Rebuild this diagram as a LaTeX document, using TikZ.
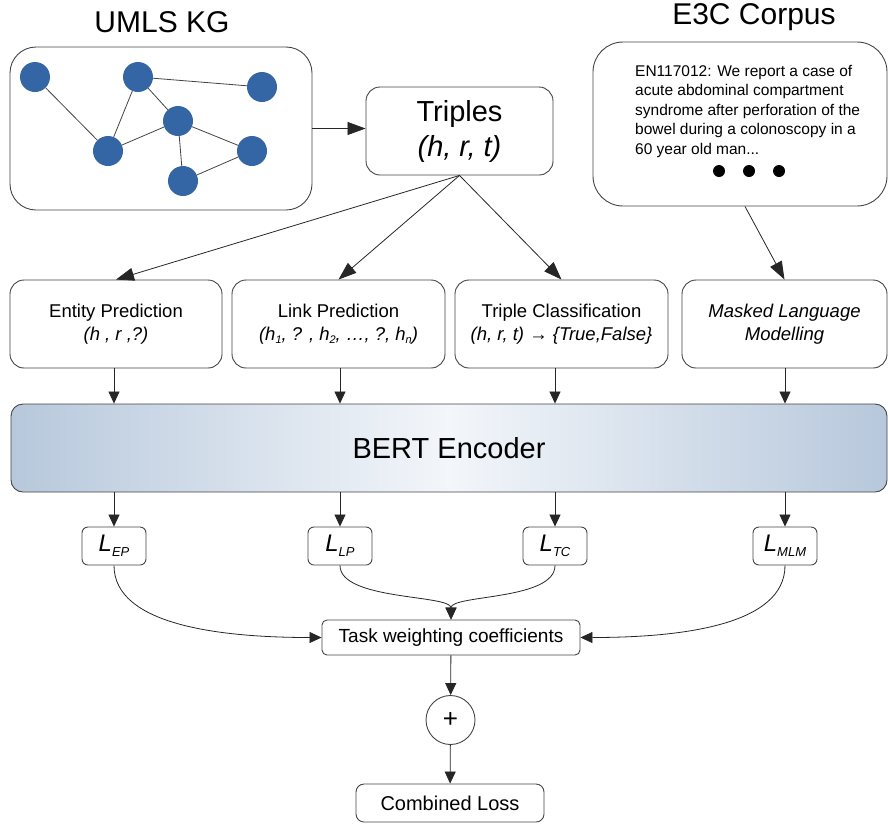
\documentclass[tikz,border=0pt]{standalone}
\usepackage{fontspec}
\setmainfont{Liberation Sans}
\usepackage{tikz}
\usetikzlibrary{arrows.meta,positioning,calc}
\definecolor{kgblue}{HTML}{3465A4}
\definecolor{bertedge}{HTML}{B7C8DC}
\definecolor{bertmid}{HTML}{F3F6FA}
\definecolor{linegray}{HTML}{444444}
\newcommand{\lowsub}[1]{\raisebox{-3.5pt}{\fontsize{11}{11}\selectfont #1}}
\newcommand{\losssub}[1]{\raisebox{-5pt}{\fontsize{13}{13}\selectfont #1}}
\tikzset{
  roundbox/.style={draw=linegray, line width=0.9pt, rounded corners=14pt, fill=white, align=center, inner sep=0pt},
  taskbox/.style={roundbox, minimum height=88pt, font=\fontsize{18.5}{23}\selectfont},
  lossbox/.style={draw=linegray, line width=0.9pt, rounded corners=6pt, fill=white, minimum width=64pt, minimum height=38pt, inner sep=0pt, font=\fontsize{24}{24}\selectfont\itshape},
  kgnode/.style={circle, fill=kgblue, minimum size=30pt, inner sep=0pt},
  dotnode/.style={circle, fill=black, minimum size=12pt, inner sep=0pt},
  arr/.style={-{Triangle[length=12pt,width=11pt]}, line width=0.8pt, draw=black!85},
  bigarr/.style={-{Triangle[length=18pt,width=13pt]}, line width=0.8pt, draw=black!85},
  flow/.style={line width=0.8pt, draw=linegray}
}
\begin{document}
\begin{tikzpicture}[x=1pt,y=-1pt]
\useasboundingbox (0,0) rectangle (888,823);
\node[font=\fontsize{30}{30}\selectfont] (kgtitle) at (162,22) {UMLS KG};
\node[font=\fontsize{30}{30}\selectfont] (corpustitle) at (754,17) {E3C Corpus};
% knowledge graph
\node[roundbox, rounded corners=26pt, minimum width=302pt, minimum height=163pt] (kg) at (161,128.5) {};
\node[kgnode] (n1) at (35,77) {};
\node[kgnode] (n2) at (138,77) {};
\node[kgnode] (n3) at (262,87) {};
\node[kgnode] (n4) at (178,121) {};
\node[kgnode] (n5) at (108,151) {};
\node[kgnode] (n6) at (252,151) {};
\node[kgnode] (n7) at (183,181) {};
\draw[flow] (n1) -- (n5) (n2) -- (n3) (n2) -- (n4) (n2) -- (n5)
  (n5) -- (n4) (n4) -- (n6) (n4) -- (n7) (n7) -- (n6);
\node[roundbox, minimum width=187pt, minimum height=88pt, font=\fontsize{29}{35}\selectfont] (triples) at (459.5,131) {Triples\\\textit{(h, r, t)}};
\draw[bigarr] (kg.east) -- (kg.east -| triples.west);
% corpus
\node[roundbox, rounded corners=30pt, minimum width=294pt, minimum height=164pt] (corpus) at (740,124) {};
\node[anchor=north west, align=left, inner sep=0pt, font=\fontsize{15.5}{19.5}\selectfont] (abstract) at (635,65) {EN117012: We report a case of\\acute abdominal compartment\\syndrome after perforation of the\\bowel during a colonoscopy in a\\60 year old man...};
\foreach \x [count=\i] in {719,749,779}
  \node[dotnode] (dot\i) at (\x,171) {};
% tasks
\node[taskbox, minimum width=212pt] (entity) at (116,324) {Entity Prediction\\\textit{(h , r ,?)}};
\node[taskbox, minimum width=213pt] (link) at (338.5,324) {Link Prediction\\\textit{(h\lowsub{1}, ? , h\lowsub{2}, …, ?, h\lowsub{n})}};
\node[taskbox, minimum width=213pt] (tc) at (561.5,324) {Triple Classification\\\textit{(h, r, t) → \{True,False\}}};
\node[taskbox, minimum width=205pt] (mlm) at (784.5,324) {\textit{Masked Language}\\\textit{Modelling}};
\foreach \t in {entity,link,tc}
  \draw[bigarr] (triples.south) -- (\t.north);
\draw[bigarr] ([xshift=5pt]corpus.south) -- (mlm.north);
\node[draw=linegray, line width=0.9pt, rounded corners=12pt, left color=bertedge, right color=bertedge, middle color=bertmid, minimum width=876pt, minimum height=88pt, font=\fontsize{29}{29}\selectfont] (bert) at (449,448) {BERT Encoder};
% losses
\node[lossbox] (lep) at (114,546) {L\losssub{EP}};
\node[lossbox] (llp) at (340,546) {L\losssub{LP}};
\node[lossbox] (ltc) at (555,546) {L\losssub{TC}};
\node[lossbox] (lmlm) at (785,546) {L\losssub{MLM}};
\foreach \t/\l in {entity/lep,link/llp,tc/ltc,mlm/lmlm}{
  \draw[arr] (\l |- \t.south) -- (\l |- bert.north);
  \draw[arr] (\l |- bert.south) -- (\l.north);
}
\node[lossbox, rounded corners=5pt, minimum width=258pt, minimum height=35pt, font=\fontsize{19}{19}\selectfont] (twc) at (451,637.5) {Task weighting coefficients};
\draw[arr] (lep.south) .. controls +(0,60) and +(-100,0) .. (twc.west);
\draw[arr] (llp.south) .. controls +(0,35) and +(0,-25) .. (twc.north);
\draw[arr] (ltc.south) .. controls +(0,35) and +(0,-25) .. (twc.north);
\draw[arr] (lmlm.south) .. controls +(0,60) and +(100,0) .. (twc.east);
\node[circle, draw=linegray, line width=0.9pt, minimum size=49pt, inner sep=0pt, font=\fontsize{26}{26}\selectfont] (plus) at (450.5,720) {+};
\node[lossbox, rounded corners=8pt, minimum width=188pt, minimum height=38pt, font=\fontsize{20}{20}\selectfont] (loss) at (450,803) {Combined Loss};
\draw[arr] (twc) -- (plus);
\draw[arr] (plus) -- (loss);
\end{tikzpicture}
\end{document}
